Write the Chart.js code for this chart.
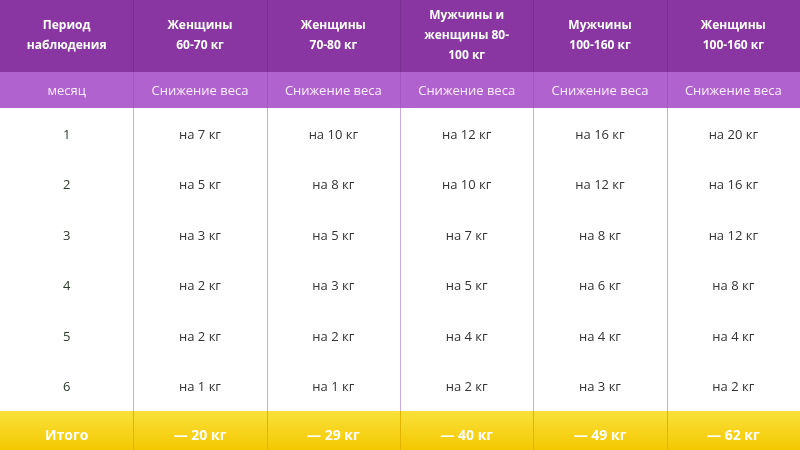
<!DOCTYPE html>
<html><head><meta charset="utf-8">
<script src="https://cdn.jsdelivr.net/npm/chart.js@4/dist/chart.umd.min.js"></script>
<style>html,body{margin:0;padding:0;background:#fff}#w{width:800px;height:450px}</style>
</head><body><div id="w"><canvas id="c"></canvas></div>
<script>
const headers = [["Период","наблюдения"],["Женщины","60-70 кг"],["Женщины","70-80 кг"],["Мужчины и","женщины 80-","100 кг"],["Мужчины","100-160 кг"],["Женщины","100-160 кг"]];
const subHeaders = ["месяц","Снижение веса","Снижение веса","Снижение веса","Снижение веса","Снижение веса"];
const months = ["1","2","3","4","5","6"];
const women6070 = [7,5,3,2,2,1];
const women7080 = [10,8,5,3,2,1];
const mixed80100 = [12,10,7,5,4,2];
const men100160 = [16,12,8,6,4,3];
const women100160 = [20,16,12,8,4,2];
const totals = ["Итого","— 20 кг","— 29 кг","— 40 кг","— 49 кг","— 62 кг"];
const series = [women6070, women7080, mixed80100, men100160, women100160];

// layout (row boundaries in y-scale units = pixels)
const HDR = [0,72], SUB = [72,108], BODY = [108,411], FOOT = [411,450];

const tablePlugin = {
  id:'table',
  beforeDatasetsDraw(chart){
    const ctx = chart.ctx, xs = chart.scales.x, ys = chart.scales.y;
    const X = v => xs.getPixelForValue(v), Y = v => ys.getPixelForValue(v);
    const W = chart.width;
    ctx.save();
    ctx.fillStyle = '#8a36a2'; ctx.fillRect(0,Y(HDR[0]),W,Y(HDR[1])-Y(HDR[0]));
    ctx.fillStyle = '#b062cf'; ctx.fillRect(0,Y(SUB[0]),W,Y(SUB[1])-Y(SUB[0]));
    let g = ctx.createLinearGradient(0,Y(FOOT[0]),0,Y(FOOT[1]));
    g.addColorStop(0,'#f9e13a'); g.addColorStop(1,'#f4c800');
    ctx.fillStyle = g; ctx.fillRect(0,Y(FOOT[0]),W,Y(FOOT[1])-Y(FOOT[0]));
    for(let i=1;i<6;i++){
      const x = Math.round(X(i))+0.5;
      ctx.strokeStyle = '#7a2c93'; ctx.lineWidth=1;
      ctx.beginPath(); ctx.moveTo(x,Y(HDR[0])); ctx.lineTo(x,Y(HDR[1])); ctx.stroke();
      ctx.strokeStyle = '#a256c2';
      ctx.beginPath(); ctx.moveTo(x,Y(SUB[0])); ctx.lineTo(x,Y(SUB[1])); ctx.stroke();
      ctx.strokeStyle = '#cfaadc';
      ctx.beginPath(); ctx.moveTo(x,Y(BODY[0])); ctx.lineTo(x,Y(BODY[1])); ctx.stroke();
      ctx.strokeStyle = '#e0b400';
      ctx.beginPath(); ctx.moveTo(x,Y(FOOT[0])); ctx.lineTo(x,Y(FOOT[1])); ctx.stroke();
    }
    ctx.textAlign='center'; ctx.textBaseline='middle';
    ctx.fillStyle='#fff'; ctx.font='bold 12px "Open Sans"';
    headers.forEach((lines,i)=>{
      const cx = X(i+0.5), cy = (Y(HDR[0])+Y(HDR[1]))/2;
      const lh = 20, top = cy - (lines.length-1)*lh/2;
      lines.forEach((t,k)=>ctx.fillText(t,cx,top+k*lh));
    });
    ctx.font='13px "Open Sans"'; ctx.fillStyle='#fbeefe';
    subHeaders.forEach((t,i)=>ctx.fillText(t,X(i+0.5),(Y(SUB[0])+Y(SUB[1]))/2+1));
    const rh = (BODY[1]-BODY[0])/months.length;
    months.forEach((m,r)=>{
      const cy = Y(BODY[0]+rh*(r+0.5)) + 2;
      ctx.fillStyle='#2c3a2c'; ctx.font='13px "Open Sans"';
      ctx.fillText(m,X(0.5),cy);
      ctx.fillStyle='#333';
      series.forEach((s,c)=>ctx.fillText('на '+s[r]+' кг',X(c+1.5),cy));
    });
    ctx.fillStyle='#fff'; ctx.font='bold 14px "Open Sans"';
    totals.forEach((t,i)=>ctx.fillText(t,X(i+0.5),(Y(FOOT[0])+Y(FOOT[1]))/2+6));
    ctx.restore();
  }
};

function draw(){
new Chart(document.getElementById('c'),{
  type:'scatter',
  data:{datasets:[{data:[],pointRadius:0}]},
  options:{
    responsive:true, maintainAspectRatio:false, animation:false,
    layout:{padding:0},
    plugins:{legend:{display:false},tooltip:{enabled:false}},
    scales:{
      x:{type:'linear',min:0,max:6,display:false},
      y:{type:'linear',min:0,max:450,reverse:true,display:false}
    }
  },
  plugins:[tablePlugin]
});
}
Promise.all([document.fonts.load('13px "Open Sans"'),document.fonts.load('bold 13px "Open Sans"')]).then(draw,draw);
</script></body></html>
